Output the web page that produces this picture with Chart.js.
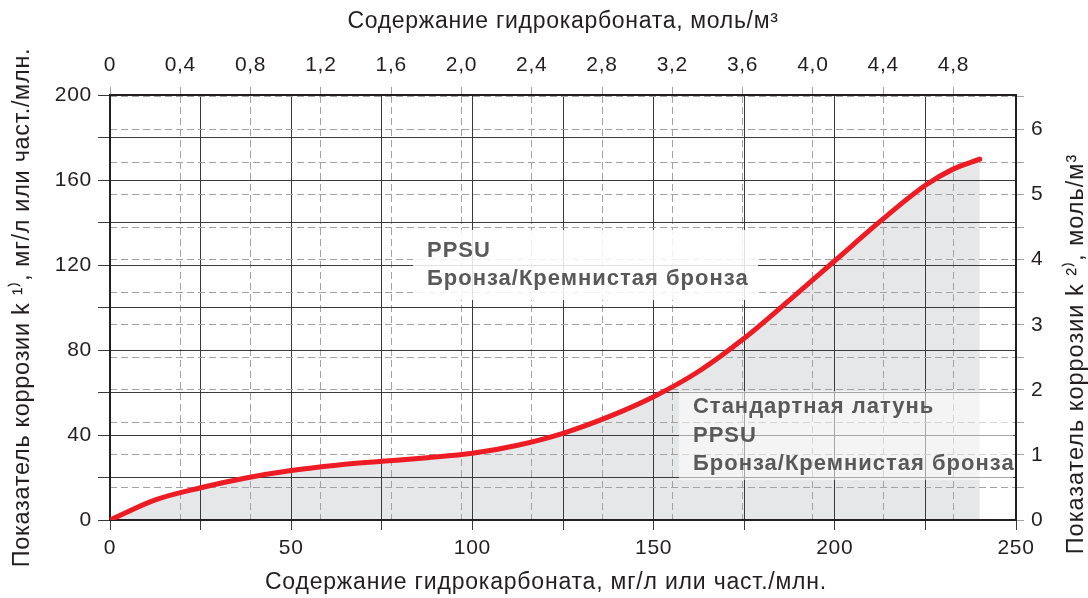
<!DOCTYPE html>
<html>
<head>
<meta charset="utf-8">
<script src="https://cdn.jsdelivr.net/npm/chart.js@4"></script>
<style>
  html, body { margin: 0; padding: 0; background: #fff; }
  canvas { display: block; }
</style>
</head>
<body>
<canvas id="chart_corrosion" width="1088" height="598"></canvas>
<script>
// Corrosion index k vs bicarbonate content
const bicarbonate = [0, 12.5, 25, 37.5, 50, 62.5, 75, 87.5, 100, 112.5, 125, 137.5, 150, 162.5, 175, 187.5, 200, 212.5, 225, 232.5, 240]; // mg/l
const corrosionIndex = [0, 9.5, 15.2, 19.8, 23.3, 25.8, 27.6, 29.3, 31.4, 35.2, 40.8, 48.5, 58, 70, 85.5, 103.5, 122, 140.5, 157.5, 165, 169.8]; // mg/l

const mgTicksBottom = [0, 50, 100, 150, 200, 250];
const molTicksTop = [0, 0.4, 0.8, 1.2, 1.6, 2.0, 2.4, 2.8, 3.2, 3.6, 4.0, 4.4, 4.8];
const mgTicksLeft = [0, 40, 80, 120, 160, 200];
const molTicksRight = [0, 1, 2, 3, 4, 5, 6];

// text zones: [x from, x to, y top, y bottom] in mg/l units
const zoneUpper = { box: [83.6, 178.8, 136.5, 103.5], alpha: 0.85, lines: ['PPSU', 'Бронза/Кремнистая бронза'] };
const zoneLower = { box: [157, 249.2, 60.7, 18.8], alpha: 0.55, lines: ['Стандартная латунь', 'PPSU', 'Бронза/Кремнистая бронза'] };

const bottomTitle = 'Содержание гидрокарбоната, мг/л или част./млн.';
const rightTitle = 'Показатель коррозии k ²⁾, моль/м³';

const FONT = "'Liberation Sans', Arial, sans-serif";
const INK = '#231f20';
const SOLID = '#3a3a3a';
const DASHED = '#a3a3a3';

function hasTick(list, v) {
    return list.some(t => Math.abs(t - v) < 1e-6);
}

// a bit of tracking for all text on the canvas
const textSpacing = {
    id: 'textSpacing',
    beforeDraw(chart) {
        chart.ctx.letterSpacing = '0.7px';
    }
};

const zoneLabels = {
    id: 'zoneLabels',
    beforeDatasetsDraw(chart) {
        const ctx = chart.ctx;
        const sx = chart.scales.x;
        const sy = chart.scales.y;
        [zoneUpper, zoneLower].forEach(z => {
            const x1 = sx.getPixelForValue(z.box[0]);
            const x2 = sx.getPixelForValue(z.box[1]);
            const y1 = sy.getPixelForValue(z.box[2]);
            const y2 = sy.getPixelForValue(z.box[3]);
            ctx.save();
            ctx.fillStyle = 'rgba(255,255,255,' + z.alpha + ')';
            ctx.fillRect(x1, y1, x2 - x1, y2 - y1);
            ctx.fillStyle = '#595959';
            ctx.font = 'bold 22px ' + FONT;
            ctx.letterSpacing = '1px';
            ctx.textBaseline = 'middle';
            const step = 28.5;
            const top = (y1 + y2) / 2 - step * (z.lines.length - 1) / 2;
            z.lines.forEach((t, i) => ctx.fillText(t, x1 + 14, top + i * step));
            ctx.restore();
        });
    }
};

// bottom title sits a little left of centre, right title reads bottom-to-top
const outerTitles = {
    id: 'outerTitles',
    afterDraw(chart) {
        const ctx = chart.ctx;
        ctx.save();
        ctx.font = '23px ' + FONT;
        ctx.letterSpacing = '0.8px';
        ctx.fillStyle = INK;
        ctx.textAlign = 'center';
        ctx.textBaseline = 'middle';
        ctx.fillText(bottomTitle, 546, 583);
        ctx.translate(1077, 354);
        ctx.rotate(-Math.PI / 2);
        ctx.font = '23.5px ' + FONT;
        ctx.letterSpacing = '1px';
        ctx.fillText(rightTitle, 0, 0);
        ctx.restore();
    }
};

const ctx = document.getElementById('chart_corrosion').getContext('2d');
const myChart = new Chart(ctx, {
    type: 'line',
    data: {
        datasets: [{
            label: 'k',
            data: bicarbonate.map((x, i) => ({ x: x, y: corrosionIndex[i] })),
            xAxisID: 'x',
            yAxisID: 'y',
            borderColor: '#ed1c24',
            borderWidth: 5,
            backgroundColor: '#e6e7e8',
            fill: 'origin',
            cubicInterpolationMode: 'monotone',
            pointRadius: 0,
            borderCapStyle: 'round'
        }]
    },
    options: {
        responsive: false,
        animation: false,
        layout: { padding: 0 },
        plugins: {
            legend: { display: false },
            tooltip: { enabled: false },
            filler: { drawTime: 'beforeDraw' }
        },
        scales: {
            x: {
                type: 'linear',
                position: 'bottom',
                min: 0,
                max: 250,
                afterFit: s => { s.height = 78; },
                grid: { color: SOLID, lineWidth: 1, tickLength: 10 },
                border: { color: INK, width: 2 },
                ticks: {
                    stepSize: 25,
                    autoSkip: false,
                    maxRotation: 0,
                    padding: 6,
                    color: INK,
                    font: { family: FONT, size: 21 },
                    callback: v => hasTick(mgTicksBottom, v) ? String(v) : ''
                },
                title: { display: false }
            },
            x2: {
                type: 'linear',
                position: 'top',
                min: 0,
                max: 5.156,
                afterFit: s => { s.height = 95; },
                grid: { color: DASHED, lineWidth: 1, tickLength: 8, tickBorderDash: [7, 4] },
                border: { color: INK, width: 2, dash: [7, 4] },
                ticks: {
                    stepSize: 0.4,
                    includeBounds: false,
                    maxTicksLimit: 20,
                    autoSkip: false,
                    maxRotation: 0,
                    padding: 9,
                    color: INK,
                    font: { family: FONT, size: 21 },
                    callback: v => hasTick(molTicksTop, v) ? (v === 0 ? '0' : v.toFixed(1).replace('.', ',')) : ''
                },
                title: {
                    display: true,
                    text: 'Содержание гидрокарбоната, моль/м³',
                    color: INK,
                    font: { family: FONT, size: 23, lineHeight: 1 },
                    padding: { top: 10.5, bottom: 0 }
                }
            },
            y: {
                type: 'linear',
                position: 'left',
                min: 0,
                max: 200,
                afterFit: s => { s.width = 110; },
                grid: { color: SOLID, lineWidth: 1, tickLength: 12 },
                border: { color: INK, width: 2 },
                ticks: {
                    stepSize: 20,
                    autoSkip: false,
                    padding: 6,
                    color: INK,
                    font: { family: FONT, size: 21 },
                    callback: v => hasTick(mgTicksLeft, v) ? String(v) : ''
                },
                title: {
                    display: true,
                    text: 'Показатель коррозии k ¹⁾, мг/л или част./млн.',
                    color: INK,
                    font: { family: FONT, size: 23.5, lineHeight: 1 },
                    padding: { top: 10.5, bottom: 0 }
                }
            },
            y2: {
                type: 'linear',
                position: 'right',
                min: 0,
                max: 6.53,
                afterFit: s => { s.width = 72; },
                grid: { color: DASHED, lineWidth: 1, tickLength: 8, tickBorderDash: [7, 4] },
                border: { color: INK, width: 2, dash: [7, 4] },
                ticks: {
                    stepSize: 0.5,
                    includeBounds: false,
                    maxTicksLimit: 20,
                    autoSkip: false,
                    padding: 7,
                    color: INK,
                    font: { family: FONT, size: 21 },
                    callback: v => hasTick(molTicksRight, v) ? String(v) : ''
                },
                title: { display: false }
            }
        }
    },
    plugins: [textSpacing, zoneLabels, outerTitles]
});
</script>
</body>
</html>
